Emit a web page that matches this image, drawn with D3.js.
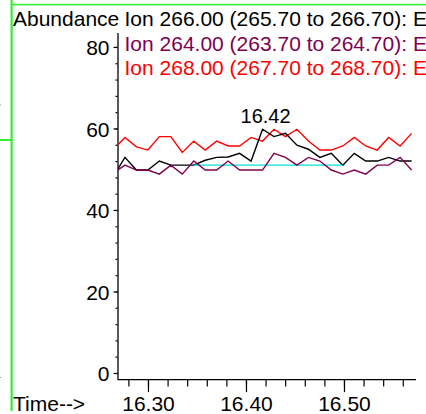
<!DOCTYPE html>
<html><head><meta charset="utf-8">
<script src="https://cdnjs.cloudflare.com/ajax/libs/d3/7.8.5/d3.min.js"></script>
<style>
html,body{margin:0;padding:0;background:#fff;overflow:hidden;}
svg{display:block;font-family:"Liberation Sans",Arial,sans-serif;}
</style></head>
<body>
<svg id="chart" width="426" height="414"></svg>
<script>
// ---- data ----
const times = [16.2648,16.2765,16.2882,16.2999,16.3116,16.3233,16.3350,16.3467,16.3584,16.3701,
  16.3818,16.3935,16.4052,16.4169,16.4286,16.4403,16.4520,16.4637,16.4754,16.4871,
  16.4988,16.5105,16.5222,16.5339,16.5456,16.5573,16.5690];
const ion266 = [48.3,52.9,49.8,49.8,52.0,51.0,51.0,51.0,52.2,52.9,
  53.0,53.9,52.0,59.8,58.0,58.8,55.9,54.9,52.9,53.9,
  51.0,53.9,52.0,52.0,52.9,52.0,52.0];
const ion264 = [49.1,51.0,49.8,49.8,48.8,51.0,48.8,52.0,49.8,49.8,
  52.0,49.8,49.8,49.8,53.9,52.9,51.0,52.9,52.0,49.8,
  48.8,49.8,48.8,51.0,51.0,52.9,49.8];
const ion268 = [54.8,57.8,55.5,54.7,58.0,58.0,54.1,56.9,54.7,56.9,
  55.7,55.7,57.8,56.9,59.8,58.0,59.8,56.9,54.7,54.7,
  55.7,57.8,55.7,54.7,57.8,55.7,58.8];
const baselineTimes = [16.3467, 16.4988];
const baselineValues = [51.0, 51.0];
const peakTime = 16.42;
const peakLabel = "16.42";
const legendLabels = [
  "Ion 266.00 (265.70 to 266.70): E",
  "Ion 264.00 (263.70 to 264.70): E",
  "Ion 268.00 (267.70 to 268.70): E"
];
const yTickValues = [0, 20, 40, 60, 80];
const xTickValues = [16.30, 16.40, 16.50];
const yAxisTitle = "Abundance";
const xAxisTitle = "Time-->";

// ---- drawing ----
const svg = d3.select("#chart");
const FS = 21;
const colors = {ion266:"#000000", ion264:"#800050", ion268:"#ff0000", base:"#00e0e0"};

// frame decorations
svg.append("rect").attr("x",10.5).attr("y",0).attr("width",2.2).attr("height",411).attr("fill","#33ee33");
svg.append("rect").attr("x",12).attr("y",3.8).attr("width",414).attr("height",1.6).attr("fill","#33ee33");
svg.append("rect").attr("x",0).attr("y",139).attr("width",11).attr("height",2).attr("fill","#33ee33");
svg.append("rect").attr("x",0).attr("y",104.5).attr("width",1).attr("height",1).attr("fill","#999");
svg.append("rect").attr("x",0).attr("y",377).attr("width",1).attr("height",1).attr("fill","#999");

const x = d3.scaleLinear().domain([16.2689, 16.5735]).range([117.5, 416]);
const y = d3.scaleLinear().domain([-1.5, 83.4]).range([379.1, 33.1]);

svg.append("defs").append("clipPath").attr("id","plotclip")
  .append("rect").attr("x",118).attr("y",0).attr("width",308).attr("height",379);

// y axis
const gy = svg.append("g").attr("transform","translate(117.5,0)");
gy.call(d3.axisLeft(y).tickValues(d3.range(0, 84, 4)).tickSize(2).tickFormat("").tickSizeOuter(0));
gy.select(".domain").remove();
const gy2 = svg.append("g").attr("transform","translate(117.5,0)");
gy2.call(d3.axisLeft(y).tickValues(yTickValues).tickSize(4).tickSizeOuter(0).tickPadding(4));
gy2.select(".domain").attr("d", `M0.5,${y.range()[0]}V${y.range()[1]}`).attr("stroke","#000").attr("stroke-width",1.3);
gy2.selectAll("text").attr("font-size",FS).attr("font-family","Liberation Sans, Arial, sans-serif")
  .attr("fill","#000").attr("dy","0.36em");
svg.selectAll("g .tick line").attr("stroke","#000");

// x axis
const gx = svg.append("g").attr("transform","translate(0,379.1)");
gx.call(d3.axisBottom(x).tickValues(d3.range(16.28, 16.57, 0.02)).tickSize(7.5).tickFormat("").tickSizeOuter(0));
gx.select(".domain").remove();
const gx2 = svg.append("g").attr("transform","translate(0,379.1)");
gx2.call(d3.axisBottom(x).tickValues(xTickValues).tickSize(13).tickSizeOuter(0).tickFormat(d3.format(".2f")));
gx2.select(".domain").attr("d", `M${x.range()[0]},0.5H${x.range()[1]}`).attr("stroke","#000").attr("stroke-width",1.3);
gx2.selectAll("text").attr("font-size",FS).attr("font-family","Liberation Sans, Arial, sans-serif")
  .attr("fill","#000").attr("y",32).attr("dy","0");
svg.selectAll("g .tick line").attr("stroke","#000").attr("stroke-width",1.2);

// titles
svg.append("text").attr("x",13).attr("y",25.5).attr("font-size",FS).text(yAxisTitle);
svg.append("text").attr("x",13).attr("y",411).attr("font-size",FS).text(xAxisTitle);

// legend
const legColors = [colors.ion266, colors.ion264, colors.ion268];
legendLabels.forEach((t,i)=>{
  svg.append("text").attr("x",124.5).attr("y",26 + i*24.5).attr("font-size",FS)
    .attr("fill",legColors[i]).text(t);
});

// lines
const plot = svg.append("g").attr("clip-path","url(#plotclip)");
const mk = vals => d3.line().x((d,i)=>x(times[i])).y(d=>y(d))(vals);
plot.append("path").attr("d",mk(ion268)).attr("fill","none").attr("stroke",colors.ion268).attr("stroke-width",1.4);
plot.append("path").attr("d",mk(ion266)).attr("fill","none").attr("stroke",colors.ion266).attr("stroke-width",1.4);
plot.append("path").attr("d",d3.line().x((d,i)=>x(baselineTimes[i])).y(d=>y(d))(baselineValues))
  .attr("fill","none").attr("stroke",colors.base).attr("stroke-width",1.4);
plot.append("path").attr("d",mk(ion264)).attr("fill","none").attr("stroke",colors.ion264).attr("stroke-width",1.4);

// peak label
svg.append("text").attr("x",x(peakTime)).attr("y",123).attr("text-anchor","middle")
  .attr("font-size",FS-1).attr("fill","#000").text(peakLabel);
</script>
</body></html>
